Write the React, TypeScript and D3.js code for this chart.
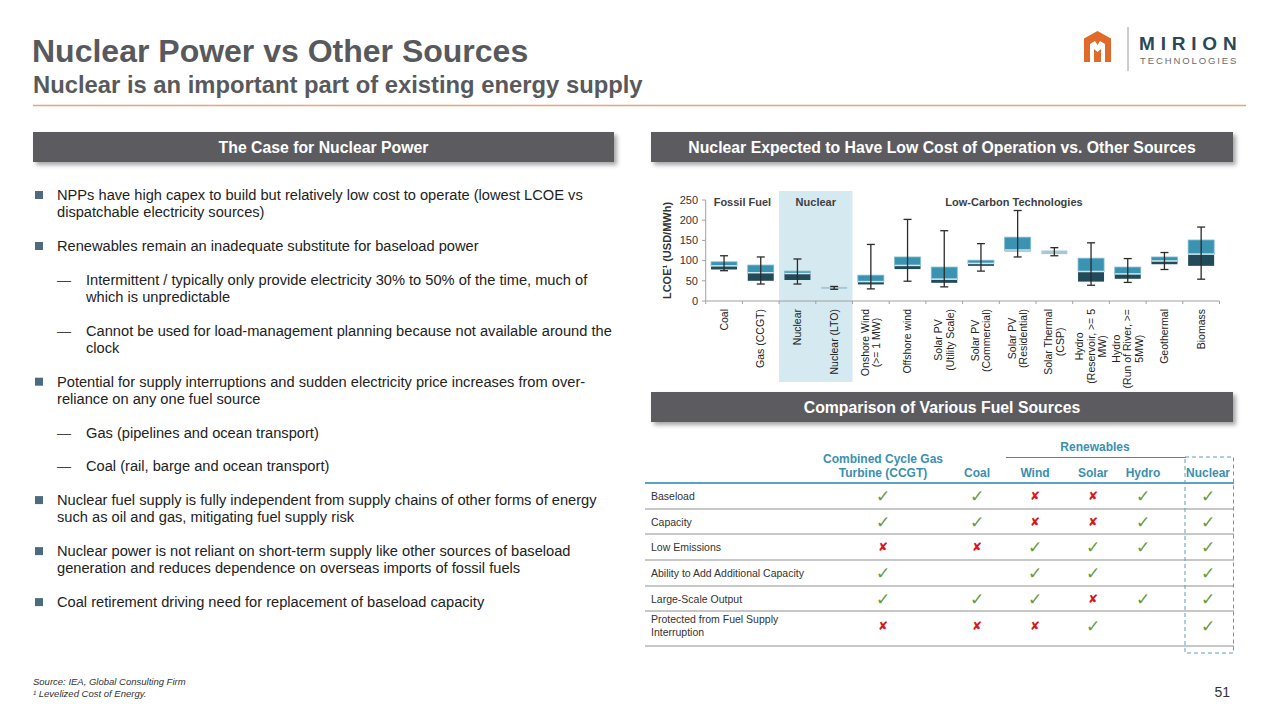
import React, { useEffect, useRef } from "react";
import * as d3 from "d3";

// ---------- DATA ----------
const categories = [
  "Coal", "Gas (CCGT)", "Nuclear", "Nuclear (LTO)", "Onshore Wind\n(>= 1 MW)", "Offshore wind",
  "Solar PV\n(Utility Scale)", "Solar PV\n(Commercial)", "Solar PV\n(Residential)", "Solar Thermal\n(CSP)",
  "Hydro\n(Reservoir, >= 5\nMW)", "Hydro\n(Run of River, >=\n5MW)", "Geothermal", "Biomass",
];
const whiskerLow = [75, 42, 42, 29, 30, 49, 35, 74, 109, 112, 39, 46, 78, 54];
const boxLow = [78, 50, 52, 30, 41, 79, 45, 87, 123, 116, 48, 55, 91, 87];
const median = [87, 70, 68, 33, 48, 88, 54, 93, 126, 120, 73, 67, 99, 116];
const boxHigh = [97, 89, 74, 35, 64, 109, 84, 101, 158, 125, 106, 84, 109, 151];
const whiskerHigh = [112, 109, 104, 36, 140, 202, 174, 142, 224, 132, 144, 105, 120, 183];
const singleTone = [false, false, false, true, false, false, false, false, false, true, false, false, false, false];
const yTicks = [0, 50, 100, 150, 200, 250];
const groupLabels = ["Fossil Fuel", "Nuclear", "Low-Carbon Technologies"];
const groupAnchors = [1, 3, 8.4]; // position along the category axis, in bands
const highlighted = ["Nuclear", "Nuclear (LTO)"];

const tableColumns = ["Combined Cycle Gas\nTurbine (CCGT)", "Coal", "Wind", "Solar", "Hydro", "Nuclear"];
const tableRows = ["Baseload", "Capacity", "Low Emissions", "Ability to Add Additional Capacity", "Large-Scale Output", "Protected from Fuel Supply\nInterruption"];
// 1 = yes, 0 = no, -1 = blank
const tableValues = [
  [1, 1, 0, 0, 1, 1],
  [1, 1, 0, 0, 1, 1],
  [0, 0, 1, 1, 1, 1],
  [1, -1, 1, 1, -1, 1],
  [1, 1, 1, 0, 1, 1],
  [0, 0, 0, 1, -1, 1],
];

type Bullet = { level: number; lines: string[] };
const bullets: Bullet[] = [
  { level: 0, lines: ["NPPs have high capex to build but relatively low cost to operate (lowest LCOE vs", "dispatchable electricity sources)"] },
  { level: 0, lines: ["Renewables remain an inadequate substitute for baseload power"] },
  { level: 1, lines: ["Intermittent / typically only provide electricity 30% to 50% of the time, much of", "which is unpredictable"] },
  { level: 1, lines: ["Cannot be used for load-management planning because not available around the", "clock"] },
  { level: 0, lines: ["Potential for supply interruptions and sudden electricity price increases from over-", "reliance on any one fuel source"] },
  { level: 1, lines: ["Gas (pipelines and ocean transport)"] },
  { level: 1, lines: ["Coal (rail, barge and ocean transport)"] },
  { level: 0, lines: ["Nuclear fuel supply is fully independent from supply chains of other forms of energy", "such as oil and gas, mitigating fuel supply risk"] },
  { level: 0, lines: ["Nuclear power is not reliant on short-term supply like other sources of baseload", "generation and reduces dependence on overseas imports of fossil fuels"] },
  { level: 0, lines: ["Coal retirement driving need for replacement of baseload capacity"] },
];

const FONT = "'Liberation Sans', Arial, Helvetica, sans-serif";
const GRAY = "#5b5c60";
const TEAL = "#3a94b1";
const DARK = "#234a59";
const LIGHTBOX = "#a8c8d4";

function Chart() {
  const ref = useRef<SVGGElement>(null);
  useEffect(() => {
    const g = d3.select(ref.current);
    g.selectAll("*").remove();
    const x = d3.scaleBand().domain(categories).range([705.7, 1219.5]).padding(0);
    const y = d3.scaleLinear().domain([0, 250]).range([301, 200]);
    const bw = x.bandwidth();
    const boxW = 26;

    // highlight band
    const hx0 = x(highlighted[0])!;
    const hx1 = x(highlighted[highlighted.length - 1])! + bw;
    g.append("rect").attr("x", hx0).attr("y", 191).attr("width", hx1 - hx0).attr("height", 191).attr("fill", "#d5e9f0");

    // group labels
    groupLabels.forEach((t, i) => {
      g.append("text").attr("x", 705.7 + bw * groupAnchors[i]).attr("y", 206).attr("text-anchor", "middle")
        .attr("font-family", FONT).attr("font-weight", "bold").attr("font-size", 11).attr("fill", "#404040").text(t);
    });

    // y axis
    g.append("line").attr("x1", 705.7).attr("x2", 705.7).attr("y1", y(250)).attr("y2", y(0)).attr("stroke", "#a0a0a0").attr("stroke-width", 1);
    yTicks.forEach((v) => {
      g.append("line").attr("x1", 702).attr("x2", 705.7).attr("y1", y(v)).attr("y2", y(v)).attr("stroke", "#a0a0a0");
      g.append("text").attr("x", 698).attr("y", y(v)).attr("dy", "0.35em").attr("text-anchor", "end")
        .attr("font-family", FONT).attr("font-size", 11).attr("fill", "#333").text(v);
    });
    g.append("text").attr("transform", `translate(671,${y(125)}) rotate(-90)`).attr("text-anchor", "middle")
      .attr("font-family", FONT).attr("font-weight", "bold").attr("font-size", 11).attr("fill", "#333")
      .text("LCOE¹ (USD/MWh)");

    // x axis
    g.append("line").attr("x1", 705.7).attr("x2", 1219.5).attr("y1", y(0)).attr("y2", y(0)).attr("stroke", "#a0a0a0");
    categories.forEach((c, i) => {
      g.append("line").attr("x1", x(c)!).attr("x2", x(c)!).attr("y1", y(0)).attr("y2", y(0) + 3).attr("stroke", "#a0a0a0");
      if (i === categories.length - 1) {
        g.append("line").attr("x1", x(c)! + bw).attr("x2", x(c)! + bw).attr("y1", y(0)).attr("y2", y(0) + 3).attr("stroke", "#a0a0a0");
      }
    });

    // boxes
    categories.forEach((c, i) => {
      const cx = x(c)! + bw / 2;
      const bx = cx - boxW / 2;
      if (singleTone[i]) {
        g.append("rect").attr("x", bx).attr("y", y(boxHigh[i])).attr("width", boxW)
          .attr("height", Math.max(2, y(boxLow[i]) - y(boxHigh[i]))).attr("fill", LIGHTBOX);
      } else {
        g.append("rect").attr("x", bx).attr("y", y(boxHigh[i])).attr("width", boxW)
          .attr("height", y(median[i]) - y(boxHigh[i])).attr("fill", TEAL).attr("stroke", "#7fbcd0").attr("stroke-width", 0.8);
        g.append("rect").attr("x", bx).attr("y", y(median[i])).attr("width", boxW)
          .attr("height", y(boxLow[i]) - y(median[i])).attr("fill", DARK);
        g.append("line").attr("x1", bx).attr("x2", bx + boxW).attr("y1", y(median[i])).attr("y2", y(median[i]))
          .attr("stroke", "#cfe6ee").attr("stroke-width", 1.5);
      }
      // whisker
      g.append("line").attr("x1", cx).attr("x2", cx).attr("y1", y(whiskerHigh[i])).attr("y2", y(whiskerLow[i]))
        .attr("stroke", "#2b2b2b").attr("stroke-width", 1.3);
      [whiskerHigh[i], whiskerLow[i]].forEach((v) => {
        g.append("line").attr("x1", cx - 4).attr("x2", cx + 4).attr("y1", y(v)).attr("y2", y(v))
          .attr("stroke", "#2b2b2b").attr("stroke-width", 1.3);
      });

      // labels
      const lines = c.split("\n");
      const lg = g.append("g").attr("transform", `translate(${cx},309) rotate(-90)`);
      const texts = lines.map((ln, k) =>
        lg.append("text").attr("y", (k - (lines.length - 1) / 2) * 11.5).attr("dy", "0.35em")
          .attr("text-anchor", "middle").attr("font-family", FONT).attr("font-size", 10.5).attr("fill", "#222").text(ln)
      );
      const maxW = d3.max(texts, (t) => (t.node() as SVGTextElement).getComputedTextLength()) || 0;
      texts.forEach((t) => t.attr("x", -maxW / 2));
    });
  }, []);
  return <g ref={ref} />;
}

function HeaderBar({ x, y, w, h, text }: { x: number; y: number; w: number; h: number; text: string }) {
  return (
    <g>
      <rect x={x} y={y} width={w} height={h} fill={GRAY} filter="url(#shadow)" />
      <text x={x + w / 2} y={y + h / 2} dy="0.36em" textAnchor="middle" fontFamily={FONT} fontWeight="bold" fontSize={15.8} fill="#fff">
        {text}
      </text>
    </g>
  );
}

function Logo() {
  return (
    <g>
      <path d="M1097.5,31 L1111,38.5 L1111,62 L1084,62 L1084,38.5 Z" fill="#e06a2a" />
      <path d="M1090,62 L1090,44 L1095,41 L1097.5,45 L1100,41 L1105,44 L1105,62 L1101,62 L1101,49 L1097.5,52 L1094,49 L1094,62 Z" fill="#fff" />
      <line x1={1128} x2={1128} y1={27} y2={71} stroke="#9a9a9a" strokeWidth={1} />
      <text x={1139} y={50} fontFamily={FONT} fontWeight="bold" fontSize={19} letterSpacing={5.8} fill="#2a4858">MIRION</text>
      <text x={1140} y={64} fontFamily={FONT} fontSize={9.5} letterSpacing={1.9} fill="#6b6b6b">TECHNOLOGIES</text>
    </g>
  );
}

function Table() {
  const colX = [883, 977, 1035, 1093, 1143, 1208];
  const rowY = [496, 522, 547, 573, 599, 626];
  const sepY = [509, 534, 560, 586, 611, 646];
  const HEAD = "#3b8fb0";
  return (
    <g fontFamily={FONT}>
      <text x={1095} y={451} textAnchor="middle" fontWeight="bold" fontSize={12} fill={HEAD}>Renewables</text>
      <line x1={1006} x2={1186} y1={457.5} y2={457.5} stroke={HEAD} strokeWidth={1} />
      {tableColumns.map((c, i) => {
        const lines = c.split("\n");
        return lines.map((ln, k) => (
          <text key={`${i}-${k}`} x={colX[i]} y={477 - (lines.length - 1 - k) * 14} textAnchor="middle" fontWeight="bold" fontSize={12} fill={HEAD}>
            {ln}
          </text>
        ));
      })}
      <line x1={645} x2={1234} y1={483} y2={483} stroke="#5aa3bf" strokeWidth={2} />
      {tableRows.map((r, i) => {
        const lines = r.split("\n");
        return (
          <g key={r}>
            {lines.map((ln, k) => (
              <text key={k} x={651} y={rowY[i] + (k - (lines.length - 1) / 2) * 12.5} dy="0.35em" fontSize={10.5} fill="#333">
                {ln}
              </text>
            ))}
            <line x1={645} x2={1234} y1={sepY[i]} y2={sepY[i]} stroke="#b4b4b4" strokeWidth={1.5} />
            {tableValues[i].map((v, j) =>
              v < 0 ? null : v === 1 ? (
                <text key={j} x={colX[j]} y={rowY[i]} dy="0.35em" textAnchor="middle" fontFamily="'DejaVu Sans', sans-serif" fontSize={17} fill="#6a9a3f">✓</text>
              ) : (
                <text key={j} x={colX[j]} y={rowY[i]} dy="0.35em" textAnchor="middle" fontFamily="'DejaVu Sans', sans-serif" fontSize={12} fill="#d9141b">✘</text>
              )
            )}
          </g>
        );
      })}
      <rect x={1185} y={457} width={48.5} height={196} fill="none" stroke="#5b9fbf" strokeWidth={1} strokeDasharray="4,3" />
    </g>
  );
}

function Bullets() {
  const startY = 200;
  const lh = 17.3;
  const gap = 16.4;
  let yy = startY;
  const out: React.ReactNode[] = [];
  bullets.forEach((b, i) => {
    const tx = b.level === 0 ? 57 : 86;
    if (b.level === 0) {
      out.push(<rect key={`b${i}`} x={35} y={yy - 9} width={8} height={8} fill="#4c6b80" />);
    } else {
      out.push(<text key={`d${i}`} x={57} y={yy} fontFamily={FONT} fontSize={14} fill="#444">—</text>);
    }
    b.lines.forEach((ln, k) => {
      out.push(
        <text key={`t${i}-${k}`} x={tx} y={yy + k * lh} fontFamily={FONT} fontSize={14.65} fill="#222">{ln}</text>
      );
    });
    yy += b.lines.length * lh + gap;
  });
  return <g>{out}</g>;
}

export default function App() {
  return (
    <svg width={1280} height={720} style={{ position: "absolute", left: 0, top: 0, background: "#fff" }}>
      <defs>
        <filter id="shadow" x="-5%" y="-30%" width="115%" height="180%">
          <feDropShadow dx={3} dy={3} stdDeviation={2} floodColor="#000" floodOpacity={0.35} />
        </filter>
      </defs>
      <rect width={1280} height={720} fill="#fff" />
      <text x={32} y={62} fontFamily={FONT} fontWeight="bold" fontSize={32} fill="#58595c">Nuclear Power vs Other Sources</text>
      <text x={33} y={93} fontFamily={FONT} fontWeight="bold" fontSize={23.8} fill="#58595c">Nuclear is an important part of existing energy supply</text>
      <line x1={33} x2={1246} y1={105.5} y2={105.5} stroke="#e9a37c" strokeWidth={1.5} />
      <Logo />
      <HeaderBar x={33} y={132} w={581} h={30} text="The Case for Nuclear Power" />
      <HeaderBar x={651} y={132} w={582} h={30} text="Nuclear Expected to Have Low Cost of Operation vs. Other Sources" />
      <HeaderBar x={651} y={392} w={582} h={30} text="Comparison of Various Fuel Sources" />
      <Bullets />
      <Chart />
      <Table />
      <text x={33} y={685} fontFamily={FONT} fontStyle="italic" fontSize={9.5} fill="#333">Source: IEA, Global Consulting Firm</text>
      <text x={33} y={697} fontFamily={FONT} fontStyle="italic" fontSize={9.5} fill="#333">¹ Levelized Cost of Energy.</text>
      <text x={1230} y={697} textAnchor="end" fontFamily={FONT} fontSize={14} fill="#333">51</text>
    </svg>
  );
}
